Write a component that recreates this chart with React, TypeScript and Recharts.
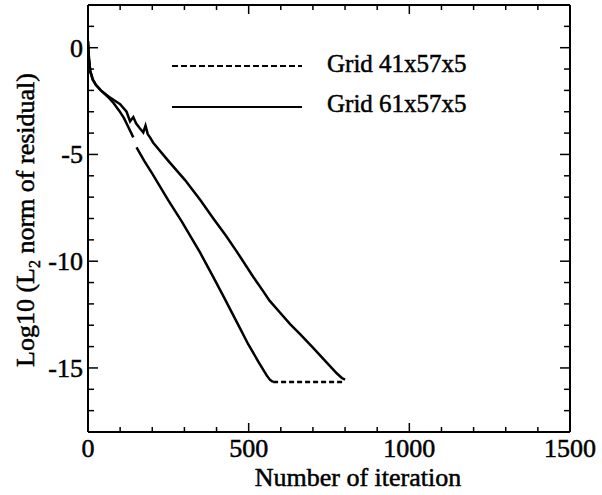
import React from 'react';
import { LineChart, Line, XAxis, YAxis } from 'recharts';

const FONT = 'Liberation Serif, DejaVu Serif, Times New Roman, serif';
const textStyle = { fontFamily: FONT };
const textInk = { fill: '#000', stroke: '#000', strokeWidth: 0.5 };

const xMajorTicks = [0, 500, 1000, 1500];
const yMajorTicks = [-15, -10, -5, 0];
const xTicks = [0, 100, 200, 300, 400, 500, 600, 700, 800, 900, 1000, 1100, 1200, 1300, 1400, 1500];
const yTicks = [-18, -17, -16, -15, -14, -13, -12, -11, -10, -9, -8, -7, -6, -5, -4, -3, -2, -1, 0, 1, 2];

const legendLabels = ['Grid 41x57x5', 'Grid 61x57x5'];

// Grid 41x57x5 (converging part)
const g41Iter = [0, 3, 7, 15, 25, 40, 65, 80, 97, 112, 125, 141, 146, 151, 175, 200, 250, 292, 349, 390, 420, 470, 499, 530, 556, 566, 576];
const g41Val = [0.3, -0.5, -1.1, -1.5, -1.75, -2.0, -2.35, -2.6, -2.95, -3.3, -3.7, -4.2, null, -4.67, -5.3, -5.9, -7.15, -8.15, -9.6, -10.75, -11.6, -13.05, -13.9, -14.7, -15.35, -15.55, -15.66];
// Grid 41x57x5 (stalled, dashed part)
const g41FlatIter = [576, 600, 650, 700, 750, 800];
const g41FlatVal = [-15.66, -15.66, -15.66, -15.66, -15.66, -15.66];
// Grid 61x57x5
const g61Iter = [0, 3, 7, 15, 25, 40, 65, 85, 100, 120, 131, 141, 150, 160, 172, 179, 186, 193, 203, 250, 302, 350, 390, 430, 463, 515, 545, 565, 600, 629, 660, 700, 743, 774, 790, 800];
const g61Val = [0.3, -0.5, -1.1, -1.5, -1.75, -2.0, -2.3, -2.5, -2.65, -3.0, -3.45, -3.25, -3.55, -3.75, -3.97, -3.65, -4.05, -4.2, -4.45, -5.3, -6.2, -7.15, -8.0, -8.82, -9.55, -10.75, -11.4, -11.85, -12.45, -12.95, -13.42, -14.05, -14.75, -15.25, -15.47, -15.55];

const toData = (xs: number[], ys: (number | null)[]) => xs.map((x, i) => ({ x, y: ys[i] }));
const g41Data = toData(g41Iter, g41Val);
const g41FlatData = toData(g41FlatIter, g41FlatVal);
const g61Data = toData(g61Iter, g61Val);

const BottomTick = (props: any) => {
  const { x, y, payload } = props;
  const major = xMajorTicks.includes(payload.value);
  return (
    <g>
      <line x1={x} x2={x} y1={y} y2={y - (major ? 9 : 5)} stroke="#000" strokeWidth={1.5} />
      {major && (
        <text x={x} y={y + 25} textAnchor="middle" fontSize={26} style={textStyle} {...textInk}>
          {payload.value}
        </text>
      )}
    </g>
  );
};

const TopTick = (props: any) => {
  const { x, y, payload } = props;
  const major = xMajorTicks.includes(payload.value);
  return <line x1={x} x2={x} y1={y} y2={y + (major ? 9 : 5)} stroke="#000" strokeWidth={1.5} />;
};

const LeftTick = (props: any) => {
  const { x, y, payload } = props;
  const major = yMajorTicks.includes(payload.value);
  return (
    <g>
      <line x1={x} x2={x + (major ? 10 : 6)} y1={y} y2={y} stroke="#000" strokeWidth={1.5} />
      {major && (
        <text x={x - 5} y={y + 9} textAnchor="end" fontSize={26} style={textStyle} {...textInk}>
          {payload.value}
        </text>
      )}
    </g>
  );
};

const RightTick = (props: any) => {
  const { x, y, payload } = props;
  const major = yMajorTicks.includes(payload.value);
  return <line x1={x} x2={x - (major ? 10 : 6)} y1={y} y2={y} stroke="#000" strokeWidth={1.5} />;
};

const XTitle = (props: any) => {
  const vb = props.viewBox || {};
  return (
    <text x={358} y={(vb.y || 432) + 54} textAnchor="middle" fontSize={26} style={textStyle} {...textInk}>
      Number of iteration
    </text>
  );
};

const YTitle = () => (
  <text
    x={0}
    y={0}
    transform="translate(34, 220) rotate(-90)"
    textAnchor="middle"
    fontSize={26}
    style={textStyle}
    {...textInk}
  >
    <tspan>Log10 (L</tspan>
    <tspan fontSize={16} dy={6}>2</tspan>
    <tspan dy={-6}> norm of residual)</tspan>
  </text>
);

const axisLineStyle = { stroke: '#000', strokeWidth: 2 };

export default function App() {
  return (
    <div style={{ position: 'absolute', left: 0, top: 0, width: 602, height: 495, background: '#fff' }}>
      <LineChart width={602} height={495} margin={{ top: 4, right: 31, bottom: 0, left: 0 }}>
        <XAxis
          xAxisId="bottom"
          type="number"
          dataKey="x"
          domain={[0, 1500]}
          ticks={xTicks}
          interval={0}
          tick={<BottomTick />}
          tickLine={false}
          tickSize={0}
          tickMargin={0}
          axisLine={axisLineStyle}
          height={63}
          allowDataOverflow
          label={<XTitle />}
        />
        <XAxis
          xAxisId="top"
          orientation="top"
          type="number"
          dataKey="x"
          domain={[0, 1500]}
          ticks={xTicks}
          interval={0}
          tick={<TopTick />}
          tickLine={false}
          tickSize={0}
          tickMargin={0}
          axisLine={axisLineStyle}
          height={1}
          allowDataOverflow
        />
        <YAxis
          yAxisId="left"
          type="number"
          domain={[-18, 2]}
          ticks={yTicks}
          interval={0}
          tick={<LeftTick />}
          tickLine={false}
          tickSize={0}
          tickMargin={0}
          axisLine={axisLineStyle}
          width={88}
          allowDataOverflow
          label={<YTitle />}
        />
        <YAxis
          yAxisId="right"
          orientation="right"
          type="number"
          domain={[-18, 2]}
          ticks={yTicks}
          interval={0}
          tick={<RightTick />}
          tickLine={false}
          tickSize={0}
          tickMargin={0}
          axisLine={axisLineStyle}
          width={1}
          allowDataOverflow
        />
        <Line
          xAxisId="bottom"
          yAxisId="left"
          data={g61Data}
          dataKey="y"
          type="linear"
          stroke="#000"
          strokeWidth={2.5}
          dot={false}
          isAnimationActive={false}
          name={legendLabels[1]}
        />
        <Line
          xAxisId="bottom"
          yAxisId="left"
          data={g41Data}
          dataKey="y"
          type="linear"
          stroke="#000"
          strokeWidth={2.5}
          dot={false}
          connectNulls={false}
          isAnimationActive={false}
          name={legendLabels[0]}
        />
        <Line
          xAxisId="bottom"
          yAxisId="left"
          data={g41FlatData}
          dataKey="y"
          type="linear"
          stroke="#000"
          strokeWidth={2.5}
          strokeDasharray="5 3"
          dot={false}
          isAnimationActive={false}
          name={legendLabels[0]}
        />
      </LineChart>
      <svg width={602} height={495} style={{ position: 'absolute', left: 0, top: 0, pointerEvents: 'none' }}>
        <line x1={172} x2={302} y1={66} y2={66} stroke="#000" strokeWidth={2} strokeDasharray="6 3" />
        <text x={327} y={72} fontSize={25} style={textStyle} {...textInk}>{legendLabels[0]}</text>
        <line x1={172} x2={302} y1={107} y2={107} stroke="#000" strokeWidth={2} />
        <text x={327} y={112} fontSize={25} style={textStyle} {...textInk}>{legendLabels[1]}</text>
      </svg>
    </div>
  );
}
